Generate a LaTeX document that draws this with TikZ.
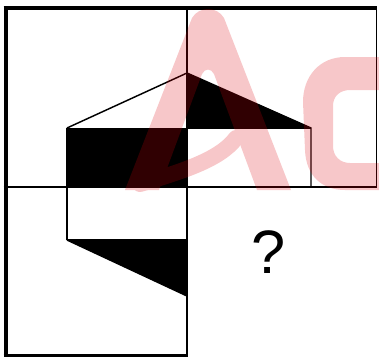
\documentclass[tikz,border=0pt]{standalone}
\usepackage{fontspec}
\newfontfamily\qfont{Liberation Sans}
\begin{document}
\begin{tikzpicture}[x=0.75pt,y=-0.75pt,line join=miter]
\definecolor{wm}{RGB}{223,0,10}
\tikzset{
  gridline/.style={line width=1.1pt},
  shapeline/.style={line width=1.1pt},
  heavyline/.style={line width=1.8pt},
}
\useasboundingbox (0,0) rectangle (379,358);
\fill[white] (0,0) rectangle (379,358);
% named points of the figure
\coordinate (L1) at (67,128);
\coordinate (A) at (187,73);
\coordinate (R1) at (311,128);
\coordinate (R2) at (311,187);
\coordinate (M1) at (187,128);
\coordinate (M2) at (187,187);
\coordinate (L3) at (67,240);
\coordinate (M3) at (187,240);
\coordinate (B) at (187,296);
% black parts
\fill (L1) rectangle (M2);
\fill (A) -- (R1) -- (M1) -- cycle;
\fill (L3) -- (M3) -- (B) -- cycle;
% outline of the figure
\draw[shapeline] (L1) -- (A) -- (R1) -- (R2);
\draw[shapeline] (M1) -- (R1);
\draw[heavyline] (L1) -- (L3);
\draw[shapeline] (L3) -- (M3);
\draw[shapeline] (L3) -- (B);
% grid
\coordinate (TL) at (3.5,8);
\coordinate (TR) at (377,8);
\draw[line width=3pt] (5.5,6.5) -- (5.5,357);
\draw[line width=2.6pt] (TL) -- (TR);
\draw[gridline] (376.5,6.5) -- (376.5,187.5);
\draw[gridline] (3.5,187) -- (377,187);
\draw[gridline] (187,8) -- (187,356);
\draw[line width=1.9pt] (3.5,355.5) -- (188,355.5);
% question mark
\node[inner sep=0pt,font=\qfont\fontsize{46}{46}\selectfont] (q) at (268.5,252.5) {?};
% watermark
\begin{scope}
\clip (0,0) rectangle (379,358);
\begin{scope}[transparency group,opacity=0.22]
\fill[wm] (125,190) -- (192,18) .. controls (199,6) and (217,6) .. (224,18)
  -- (291,190) -- (257,190) -- (214,74) .. controls (211,68) and (205,68) .. (202,74)
  -- (159,190) -- cycle;
\draw[wm,line width=12pt,line cap=round] (140,184) .. controls (180,172) and (220,160) .. (236,138);
\fill[wm] (381,57) -- (345,57) .. controls (320,57) and (303,76) .. (303,102)
  -- (305,150) .. controls (306,176) and (322,190) .. (345,190) -- (381,190)
  -- (381,163) -- (350,163) .. controls (340,163) and (333,156) .. (333,146)
  -- (333,106) .. controls (333,96) and (340,90) .. (350,90) -- (381,90) -- cycle;
\end{scope}
\end{scope}
\end{tikzpicture}
\end{document}
